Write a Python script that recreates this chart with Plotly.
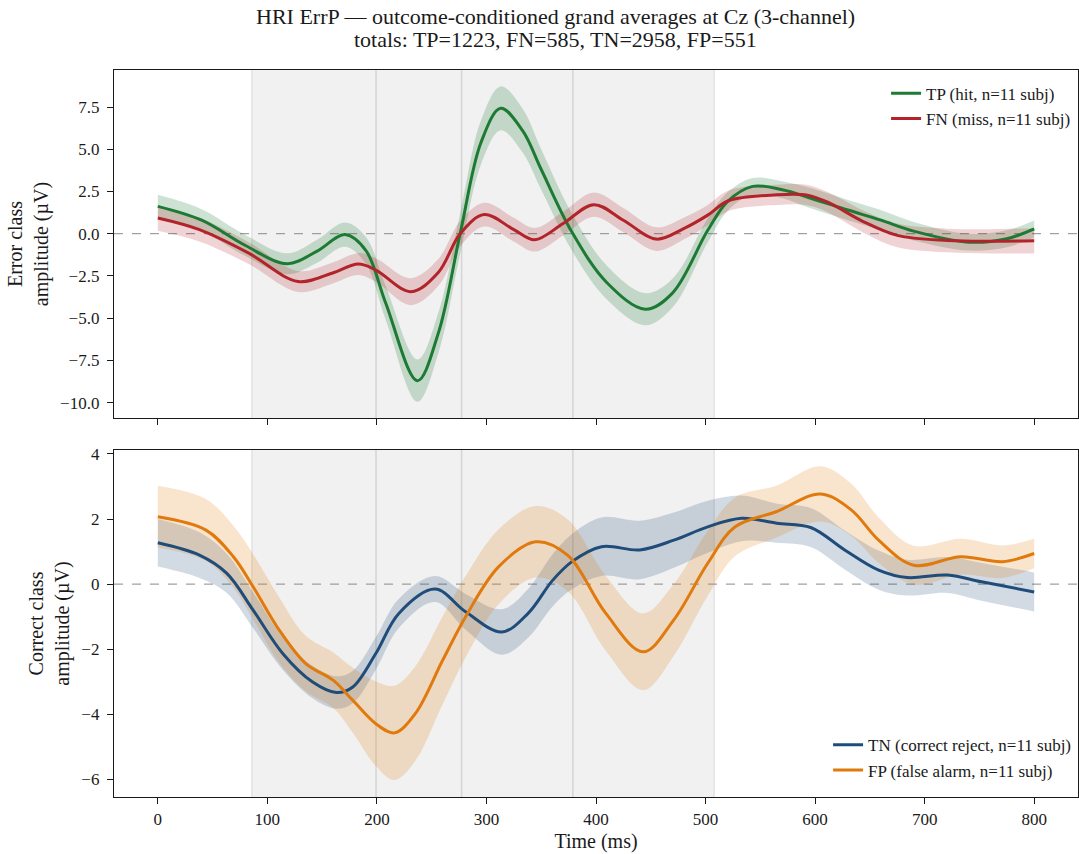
import numpy as np
import plotly.graph_objects as go

# ---- grand-average ERP data (Cz), mean and SEM at knot times ----
tp_t = [0, 40, 80, 118, 145, 171, 190, 208, 237, 256, 276, 295, 313, 333, 350, 378, 410, 445,
        470, 502, 520, 543, 570, 596, 630, 660, 690, 740, 775, 800]
tp_mean = [1.62, 0.8, -0.7, -1.78, -1.05, -0.05, -1.0, -4.1, -8.7, -5.9, 0.0, 5.4, 7.42, 6.1,
           3.8, 0.1, -2.9, -4.47, -3.5, 0.2, 1.9, 2.8, 2.6, 2.1, 1.4, 0.8, 0.15, -0.5, -0.3, 0.28]
tp_sem = [0.68, 0.65, 0.62, 0.62, 0.68, 0.72, 0.8, 1.0, 1.25, 1.2, 1.2, 1.3, 1.3, 1.3, 1.2, 1.1,
          1.0, 0.95, 0.85, 0.7, 0.55, 0.5, 0.5, 0.6, 0.6, 0.6, 0.55, 0.5, 0.5, 0.5]

fn_t = [0, 38, 83, 128, 159, 183, 199, 231, 256, 276, 298, 325, 344, 370, 398, 425, 455, 480,
        502, 521, 565, 593, 612, 643, 675, 721, 760, 800]
fn_mean = [0.93, 0.24, -1.15, -2.83, -2.34, -1.8, -2.15, -3.43, -2.3, 0.0, 1.13, 0.24, -0.36,
           0.6, 1.72, 0.8, -0.32, 0.3, 1.1, 1.95, 2.3, 2.28, 1.85, 0.75, -0.1, -0.4, -0.45, -0.42]
fn_sem = [0.75, 0.7, 0.65, 0.62, 0.62, 0.65, 0.7, 0.8, 0.8, 0.75, 0.7, 0.7, 0.7, 0.7, 0.72, 0.72,
          0.7, 0.65, 0.6, 0.6, 0.6, 0.6, 0.6, 0.65, 0.7, 0.7, 0.72, 0.75]

tn_t = [0, 38, 63, 87, 114, 141, 163, 178, 199, 220, 253, 281, 314, 338, 360, 378, 405, 440,
        471, 502, 533, 565, 596, 627, 658, 684, 721, 752, 800]
tn_mean = [1.27, 0.89, 0.33, -0.8, -2.13, -3.0, -3.33, -3.16, -2.13, -0.9, -0.15, -0.85, -1.47,
           -0.9, 0.1, 0.69, 1.15, 1.05, 1.35, 1.76, 2.02, 1.87, 1.74, 1.05, 0.43, 0.2, 0.28,
           0.07, -0.24]
tn_sem = [0.73, 0.7, 0.6, 0.55, 0.5, 0.5, 0.5, 0.5, 0.5, 0.45, 0.4, 0.55, 0.7, 0.75, 0.8, 0.85,
          0.9, 0.9, 0.85, 0.8, 0.7, 0.6, 0.6, 0.6, 0.6, 0.55, 0.55, 0.58, 0.6]

fp_t = [0, 44, 69, 87, 111, 135, 160, 178, 199, 216, 235, 260, 281, 311, 345, 374, 409, 443,
        471, 502, 527, 565, 605, 633, 658, 690, 733, 771, 800]
fp_mean = [2.07, 1.66, 0.84, -0.08, -1.42, -2.44, -2.95, -3.57, -4.29, -4.57, -3.98, -2.34,
           -1.0, 0.53, 1.3, 0.89, -0.9, -2.08, -1.1, 0.64, 1.76, 2.23, 2.77, 2.28, 1.35, 0.58,
           0.84, 0.69, 0.94]
fp_sem = [0.95, 0.95, 0.95, 1.0, 1.0, 0.85, 0.85, 1.0, 1.3, 1.45, 1.45, 1.35, 1.25, 1.15, 1.1,
          1.1, 1.15, 1.18, 1.1, 1.0, 0.9, 0.8, 0.85, 0.8, 0.7, 0.6, 0.55, 0.5, 0.45]

# analysis windows (ms), sample boundaries at 256 Hz
window_edges = [85.9, 199.2, 277.3, 378.9, 507.8]

x_ticks = [0, 100, 200, 300, 400, 500, 600, 700, 800]
top_ticks = [-10.0, -7.5, -5.0, -2.5, 0.0, 2.5, 5.0, 7.5]
bot_ticks = [-6, -4, -2, 0, 2, 4]

title_lines = ["HRI ErrP — outcome-conditioned grand averages at Cz (3-channel)",
               "totals: TP=1223, FN=585, TN=2958, FP=551"]

FONT = "Liberation Serif, Times New Roman, serif"
INK = "#1a1a1a"

series = [
    # name, t, mean, sem, line colour, fill rgba, axis suffix, legend
    ("TP (hit, n=11 subj)", tp_t, tp_mean, tp_sem, "#1d7a33", "rgba(29,122,51,0.22)", "", "legend"),
    ("FN (miss, n=11 subj)", fn_t, fn_mean, fn_sem, "#b2232a", "rgba(178,35,42,0.2)", "", "legend"),
    ("TN (correct reject, n=11 subj)", tn_t, tn_mean, tn_sem, "#1f4c78", "rgba(31,76,120,0.2)", "2", "legend2"),
    ("FP (false alarm, n=11 subj)", fp_t, fp_mean, fp_sem, "#e07a0c", "rgba(224,122,12,0.2)", "2", "legend2"),
]

fig = go.Figure()

# SEM bands first, so the mean lines sit above them
for name, t, m, s, col, fill, ax, lg in series:
    m = np.asarray(m)
    s = np.asarray(s)
    fig.add_trace(go.Scatter(x=t, y=m - s, mode="lines", line=dict(width=0, shape="spline", smoothing=1.0),
                             xaxis="x" + ax, yaxis="y" + ax, showlegend=False, hoverinfo="skip"))
    fig.add_trace(go.Scatter(x=t, y=m + s, mode="lines", line=dict(width=0, shape="spline", smoothing=1.0),
                             fill="tonexty", fillcolor=fill,
                             xaxis="x" + ax, yaxis="y" + ax, showlegend=False, hoverinfo="skip"))

for name, t, m, s, col, fill, ax, lg in series:
    fig.add_trace(go.Scatter(x=t, y=m, mode="lines", name=name,
                             line=dict(color=col, width=3, shape="spline", smoothing=1.0),
                             xaxis="x" + ax, yaxis="y" + ax, legend=lg))

shapes = []
for xref, yref in (("x", "y"), ("x2", "y2")):
    shapes.append(dict(type="rect", xref=xref, yref=yref + " domain", x0=window_edges[0],
                       x1=window_edges[-1], y0=0, y1=1, fillcolor="#f1f1f1",
                       line=dict(width=0), layer="below"))
    for i, e in enumerate(window_edges):
        outer = i in (0, len(window_edges) - 1)
        shapes.append(dict(type="line", xref=xref, yref=yref + " domain", x0=e, x1=e, y0=0, y1=1,
                           line=dict(color="#e4e4e4" if outer else "#d6d6d6", width=1.6), layer="below"))
    shapes.append(dict(type="line", xref=xref + " domain", yref=yref, x0=0, x1=1, y0=0, y1=0,
                       line=dict(color="#8a8a8a", width=1, dash="dash"), layer="below"))

axis_common = dict(showline=True, linecolor=INK, linewidth=1.3, mirror=True, ticks="outside",
                   ticklen=6, tickwidth=1.3, tickcolor=INK, showgrid=False, zeroline=False,
                   tickfont=dict(family=FONT, size=17, color=INK))

fig.update_layout(
    width=1079, height=854,
    paper_bgcolor="white", plot_bgcolor="white",
    margin=dict(l=114, r=1, t=70, b=57),
    font=dict(family=FONT, color=INK),
    annotations=[
        dict(text=title_lines[0], xref="paper", yref="paper", x=0.458, y=1.0737,
             xanchor="center", yanchor="middle", showarrow=False,
             font=dict(family=FONT, size=22, color=INK)),
        dict(text=title_lines[1], xref="paper", yref="paper", x=0.458, y=1.0413,
             xanchor="center", yanchor="middle", showarrow=False,
             font=dict(family=FONT, size=22, color=INK)),
    ],
    xaxis=dict(axis_common, range=[-40, 840], tickvals=x_ticks, showticklabels=False,
               anchor="y", matches="x2"),
    yaxis=dict(axis_common, domain=[0.5213, 1], range=[-10.91, 9.69], tickvals=top_ticks,
               ticklabelstandoff=4,
               ticktext=[("−" if v < 0 else "") + f"{abs(v):.1f}" for v in top_ticks],
               title=dict(text="Error class<br>amplitude (µV)", font=dict(family=FONT, size=20, color=INK),
                          standoff=6)),
    xaxis2=dict(axis_common, range=[-40, 840], tickvals=x_ticks, anchor="y2",
                title=dict(text="Time (ms)", font=dict(family=FONT, size=20, color=INK), standoff=6)),
    yaxis2=dict(axis_common, domain=[0, 0.4773], range=[-6.54, 4.12], tickvals=bot_ticks,
                ticklabelstandoff=4,
                ticktext=[("−" if v < 0 else "") + f"{abs(v)}" for v in bot_ticks],
                title=dict(text="Correct class<br>amplitude (µV)", font=dict(family=FONT, size=20, color=INK),
                           standoff=6)),
    legend=dict(x=0.998, y=0.992, xanchor="right", yanchor="top", bgcolor="rgba(255,255,255,0.8)",
                font=dict(family=FONT, size=17, color=INK), tracegroupgap=0, traceorder="normal"),
    legend2=dict(x=0.998, y=0.012, xanchor="right", yanchor="bottom", bgcolor="rgba(255,255,255,0.8)",
                 font=dict(family=FONT, size=17, color=INK), tracegroupgap=0, traceorder="normal"),
    shapes=shapes,
    showlegend=True,
)

fig.write_html("out.html")
